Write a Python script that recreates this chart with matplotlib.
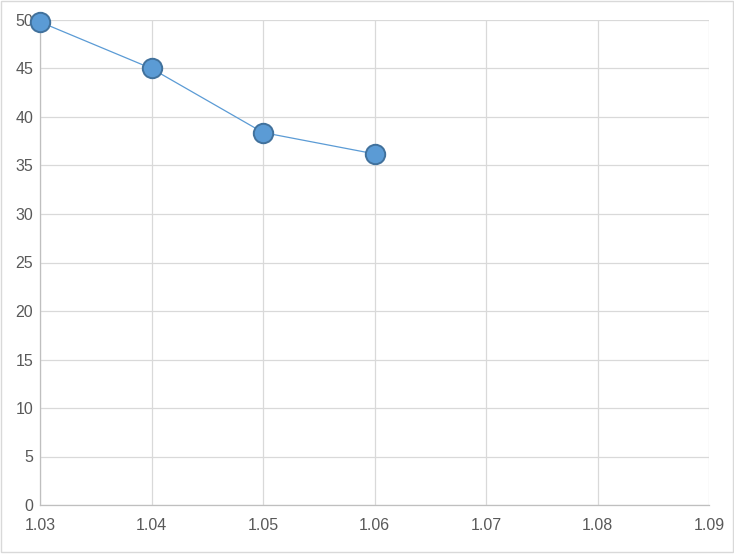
import matplotlib.pyplot as plt
from matplotlib.patches import Rectangle

# ── Data ──────────────────────────────────────────────────────────────────────
x_vals = [1.03, 1.04, 1.05, 1.06]
y_vals = [49.8, 45.0, 38.4, 36.2]
x_ticks = [1.03, 1.04, 1.05, 1.06, 1.07, 1.08, 1.09]
y_ticks = [0, 5, 10, 15, 20, 25, 30, 35, 40, 45, 50]

# ── Plot ──────────────────────────────────────────────────────────────────────
plt.rcParams["font.family"] = ["Liberation Sans", "DejaVu Sans"]

fig = plt.figure(figsize=(7.34, 5.54), dpi=100)
ax = fig.add_axes([40 / 734, 49 / 554, 669 / 734, 485 / 554])

ax.plot(x_vals, y_vals, color="#5B9BD5", linewidth=0.9, marker="o",
        markersize=14, markerfacecolor="#5B9BD5", markeredgecolor="#41719C",
        markeredgewidth=1.4, clip_on=False, zorder=3)

ax.set_xlim(1.03, 1.09)
ax.set_ylim(0, 50)
ax.set_xticks(x_ticks)
ax.set_xticklabels([f"{v:.2f}" for v in x_ticks])
ax.set_yticks(y_ticks)
ax.grid(True, color="#D9D9D9", linewidth=0.9)
ax.set_axisbelow(True)

for side in ("top", "right"):
    ax.spines[side].set_visible(False)
for side in ("left", "bottom"):
    ax.spines[side].set_color("#BFBFBF")
    ax.spines[side].set_linewidth(0.9)

ax.tick_params(length=0, labelsize=11.5, labelcolor="#595959")
ax.tick_params(axis="x", pad=9)
ax.tick_params(axis="y", pad=5)

# chart border
fig.patches.append(Rectangle((0.5 / 734, 2 / 554), 732 / 734, 551 / 554,
                             transform=fig.transFigure, fill=False,
                             edgecolor="#D9D9D9", linewidth=1))

fig.savefig("out.png", dpi=100)
